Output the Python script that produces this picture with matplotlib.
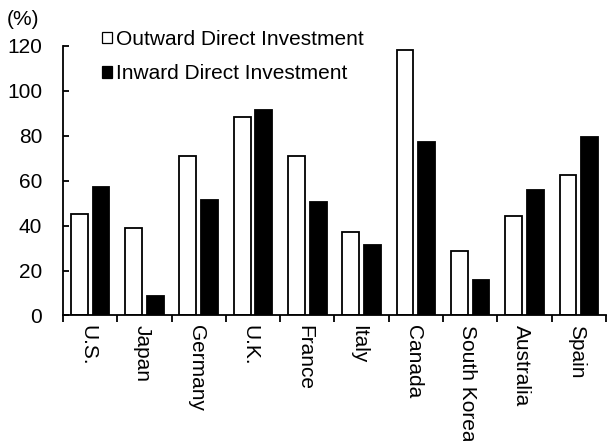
import matplotlib.pyplot as plt
import numpy as np
from matplotlib.patches import Patch

plt.rcParams['font.family'] = ['Liberation Sans', 'DejaVu Sans']

countries = ['U.S.', 'Japan', 'Germany', 'U.K.', 'France', 'Italy',
             'Canada', 'South Korea', 'Australia', 'Spain']
outward = [45.1, 39.1, 71.1, 88.5, 71.1, 37.3, 118.2, 28.7, 44.3, 62.7]
inward = [57.3, 8.7, 51.4, 91.4, 50.5, 31.4, 77.4, 15.8, 55.7, 79.3]

fs = 15

fig = plt.figure(figsize=(6.08, 4.41), dpi=100)
ax = fig.add_axes([0.1036, 0.2846, 0.893, 0.6111])

x = np.arange(len(countries))
w = 0.31
ax.bar(x - 0.2, outward, w, color='white', edgecolor='black', linewidth=1.3)
ax.bar(x + 0.2, inward, w, color='black', edgecolor='black', linewidth=1.3)

ax.set_xlim(-0.5, len(countries) - 0.5)
ax.set_ylim(0, 120)
ax.set_yticks(np.arange(0, 121, 20))
ax.tick_params(axis='y', direction='in', length=4, width=1.3, pad=15, labelsize=fs)

# category boundaries get the ticks, names sit in between
ax.set_xticks(np.arange(-0.5, len(countries), 1.0))
ax.set_xticklabels([])
ax.set_xticks(x - 0.05, minor=True)
ax.set_xticklabels(countries, minor=True, rotation=-90, fontsize=fs)
ax.tick_params(axis='x', which='major', direction='out', length=5, width=1.3)
ax.tick_params(axis='x', which='minor', length=0, pad=7)

for s in ['top', 'right']:
    ax.spines[s].set_visible(False)
for s in ['left', 'bottom']:
    ax.spines[s].set_linewidth(1.3)

fig.text(0.011, 0.955, '(%)', fontsize=fs, ha='left', va='center')

handles = [Patch(facecolor='white', edgecolor='black', linewidth=0.9),
           Patch(facecolor='black', edgecolor='black', linewidth=0.9)]
ax.legend(handles, ['Outward Direct Investment', 'Inward Direct Investment'],
          loc='upper left', bbox_to_anchor=(0.072, 1.06), frameon=False,
          fontsize=fs, handlelength=0.48, handleheight=0.48, handletextpad=0.17,
          labelspacing=0.75, borderaxespad=0, borderpad=0)

fig.savefig('out.png', dpi=100)
